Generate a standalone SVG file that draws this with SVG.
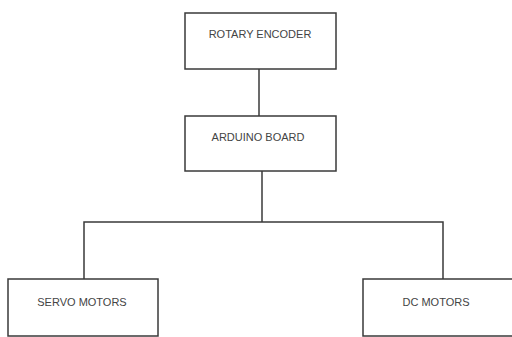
<svg xmlns="http://www.w3.org/2000/svg" width="512" height="337" viewBox="0 0 512 337">
<style>
.box{fill:#fff;stroke:#3a3a3a;stroke-width:1.5}
.lbl{font-family:"Liberation Sans",Arial,sans-serif;font-size:11px;fill:#444;text-anchor:middle;dominant-baseline:central}
.con{fill:none;stroke:#3a3a3a;stroke-width:1.5}
</style>
<rect width="512" height="337" fill="#fff"/>
<g id="connectors">
<path class="con" d="M259 69V116"/>
<path class="con" d="M262 171V222"/>
<path class="con" d="M84 279V222H443V279"/>
</g>
<g id="rotary-encoder">
<rect class="box" x="185" y="13" width="151" height="56"/>
<text class="lbl" x="260" y="34">ROTARY ENCODER</text>
</g>
<g id="arduino-board">
<rect class="box" x="185" y="116" width="151" height="55"/>
<text class="lbl" x="258" y="137">ARDUINO BOARD</text>
</g>
<g id="servo-motors">
<rect class="box" x="8" y="279" width="150" height="57"/>
<text class="lbl" x="82" y="302">SERVO MOTORS</text>
</g>
<g id="dc-motors">
<rect class="box" x="363" y="279" width="152" height="57"/>
<text class="lbl" x="436" y="302">DC MOTORS</text>
</g>
</svg>
